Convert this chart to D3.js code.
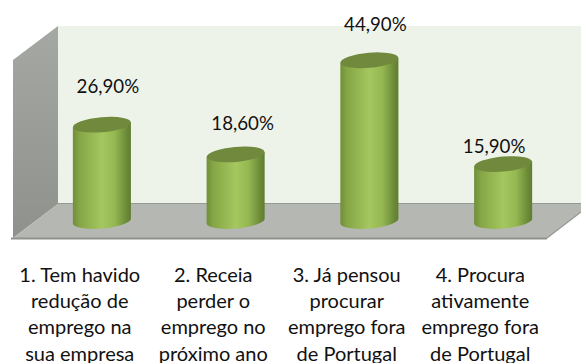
<!DOCTYPE html>
<html>
<head>
<meta charset="utf-8">
<script src="https://cdn.jsdelivr.net/npm/d3@7"></script>
<style>
  html, body { margin: 0; padding: 0; background: #fff; }
  svg { display: block; }
  text { font-family: Lato, "Open Sans", sans-serif; fill: #111; }
</style>
</head>
<body>
<svg id="chart"></svg>
<script>
const categories = ["q1", "q2", "q3", "q4"];
const categoryLines = [
  ["1. Tem havido", "redução de", "emprego na", "sua empresa"],
  ["2. Receia", "perder o", "emprego no", "próximo ano"],
  ["3. Já pensou", "procurar", "emprego fora", "de Portugal"],
  ["4. Procura", "ativamente", "emprego fora", "de Portugal"],
];
const values = [26.9, 18.6, 44.9, 15.9];
const valueLabels = ["26,90%", "18,60%", "44,90%", "15,90%"];

const width = 581;
const height = 363;

const svg = d3.select("#chart").attr("width", width).attr("height", height);

const x = d3
  .scaleBand()
  .domain(categories)
  .range([35, 570])
  .paddingInner(0.566)
  .paddingOuter(0.283);

// the axis labels run along the front edge of the floor, the bars along the back
const labelX = d3.scaleBand().domain(categories).range([13, 547]);

const y = d3.scaleLinear().domain([0, 50]).range([221, 42]);

const defs = svg.append("defs");

const bodyGradient = defs
  .append("linearGradient")
  .attr("id", "cyl-body")
  .attr("x1", 0)
  .attr("x2", 1)
  .attr("y1", 0)
  .attr("y2", 0);
[
  [0, "#6f8f3a"],
  [0.12, "#86a646"],
  [0.5, "#a4c75f"],
  [0.72, "#96b853"],
  [0.92, "#6c8b37"],
  [1, "#5f7c30"],
].forEach(([o, c]) => {
  bodyGradient.append("stop").attr("offset", o).attr("stop-color", c);
});

const wallGradient = defs
  .append("linearGradient")
  .attr("id", "side-wall")
  .attr("x1", 0)
  .attr("x2", 0)
  .attr("y1", 0)
  .attr("y2", 1);
wallGradient.append("stop").attr("offset", 0).attr("stop-color", "#a6a8a4");
wallGradient.append("stop").attr("offset", 1).attr("stop-color", "#8f918d");

defs
  .append("filter")
  .attr("id", "soft")
  .append("feGaussianBlur")
  .attr("stdDeviation", 0.5);

// chart box: back wall, side wall, floor
const walls = svg.append("g");
walls
  .append("rect")
  .attr("x", 58)
  .attr("y", 26)
  .attr("width", width - 58)
  .attr("height", 178)
  .attr("fill", "#eef3ea");
walls
  .append("polygon")
  .attr("points", "13,60 58,26 58,204 13,238")
  .attr("fill", "url(#side-wall)");
walls
  .append("polygon")
  .attr("points", "13,238 58,204 581,204 581,212 547,238")
  .attr("fill", "#b5b7b2");
walls
  .append("path")
  .attr("d", "M58,203.5H581M547,238L581,212")
  .attr("fill", "none")
  .attr("stroke", "#979995")
  .attr("stroke-width", 1.2);
walls
  .append("path")
  .attr("d", "M11,238.5H547")
  .attr("fill", "none")
  .attr("stroke", "#8f918e")
  .attr("stroke-width", 2);

// cylinders are tilted a little, left side lower
const tilt = 5;
const ry = 7.5;

function cylinderBody(d, i) {
  const rx = x.bandwidth() / 2;
  const left = x(categories[i]);
  const right = left + x.bandwidth();
  const rise = rx * Math.sin((tilt * Math.PI) / 180);
  const top = y(d);
  const bottom = y(0);
  return `M${left},${top + rise}
    L${left},${bottom + rise}
    A${rx},${ry} ${-tilt} 0 0 ${right},${bottom - rise}
    L${right},${top - rise}Z`;
}

const bars = svg.append("g").attr("filter", "url(#soft)");

bars
  .selectAll("path")
  .data(values)
  .enter()
  .append("path")
  .attr("d", cylinderBody)
  .attr("fill", "url(#cyl-body)");

bars
  .selectAll("ellipse")
  .data(values)
  .enter()
  .append("ellipse")
  .attr("rx", x.bandwidth() / 2)
  .attr("ry", ry)
  .attr("transform", (d, i) => {
    const cx = x(categories[i]) + x.bandwidth() / 2;
    return `translate(${cx},${y(d)}) rotate(${-tilt})`;
  })
  .attr("fill", "#70893c");

// nudges of the labels from the top of each cylinder
const labelNudgeX = [6, 7, 6, -9];
const labelNudgeY = [-38, -31, -36, -18];

svg
  .append("g")
  .selectAll("text")
  .data(values)
  .enter()
  .append("text")
  .attr("x", (d, i) => x(categories[i]) + x.bandwidth() / 2 + labelNudgeX[i])
  .attr("y", (d, i) => y(d) + labelNudgeY[i])
  .attr("dy", ".35em")
  .attr("text-anchor", "middle")
  .attr("font-size", 18.7)
  .text((d, i) => valueLabels[i]);

// category axis, one tspan per line
const axis = svg
  .append("g")
  .attr("transform", "translate(0,268)")
  .call(d3.axisBottom(labelX).tickSize(0).tickPadding(0));

axis.select(".domain").remove();

axis
  .selectAll("text")
  .attr("y", 0)
  .attr("dy", null)
  .attr("font-family", null)
  .attr("font-size", 20)
  .each(function (d, i) {
    const label = d3.select(this).text(null);
    categoryLines[i].forEach((line, j) => {
      label
        .append("tspan")
        .attr("x", 0)
        .attr("y", 14 + j * 26.2)
        .text(line);
    });
  });
</script>
</body>
</html>
